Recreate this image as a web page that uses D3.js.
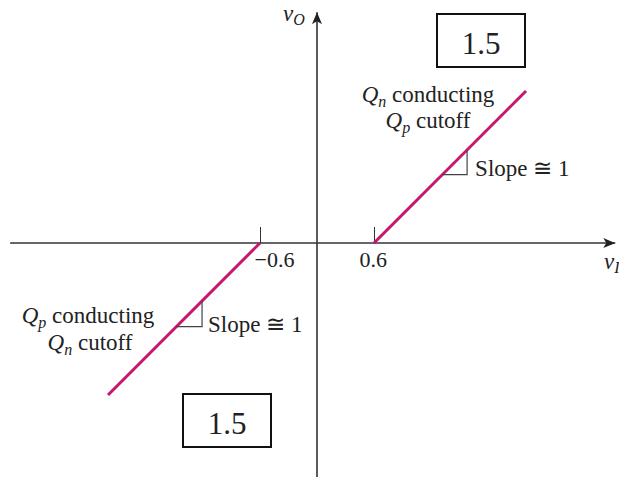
<!DOCTYPE html>
<html>
<head>
<meta charset="utf-8">
<script src="https://cdn.jsdelivr.net/npm/d3@7"></script>
<style>
  html, body { margin: 0; padding: 0; background: #fff; }
  svg { display: block; }
  text { font-family: "Liberation Serif", "DejaVu Serif", serif; fill: #222; }
</style>
</head>
<body>
<svg id="chart" width="619" height="477"></svg>
<script>
// ---- data ----
const segNegative = [[-2.2, -1.6], [-0.6, 0]];   // Qp conducting region
const segPositive = [[0.6, 0], [2.2, 1.6]];      // Qn conducting region
const tickValues = [-0.6, 0.6];
const tickLabels = ["\u22120.6", "0.6"];
const slopeTriangles = [
  { x0: 1.32, x1: 1.58, offset: -0.6 },
  { x0: -1.48, x1: -1.21, offset: 0.6 }
];
const boxLabels = ["1.5", "1.5"];

// ---- scales ----
const W = 619, H = 477;
const ox = 317, oy = 243, k = 95;
const x = d3.scaleLinear().domain([-1, 1]).range([ox - k, ox + k]);
const y = d3.scaleLinear().domain([-1, 1]).range([oy + k, oy - k]);

const svg = d3.select("#chart");
const axisColor = "#333";
const lineColor = "#c8156f";

// arrows
const defs = svg.append("defs");
defs.append("marker").attr("id", "arr").attr("viewBox", "0 0 12 10")
  .attr("refX", 12).attr("refY", 5).attr("markerWidth", 12).attr("markerHeight", 10)
  .attr("markerUnits", "userSpaceOnUse").attr("orient", "auto")
  .append("path").attr("d", "M0,0 L12,5 L0,10 L3,5 Z").attr("fill", "#222");

// x axis
const xAxis = d3.axisBottom(x).tickValues(tickValues).tickFormat((d, i) => tickLabels[i])
  .tickSize(-16).tickSizeOuter(0).tickPadding(0);
const gx = svg.append("g").attr("transform", `translate(0,${oy})`).call(xAxis);
gx.select(".domain").remove();
gx.selectAll(".tick line").attr("stroke", axisColor).attr("stroke-width", 1);
gx.selectAll(".tick text").attr("font-size", 22).attr("fill", "#222")
  .attr("y", 24).attr("dy", 0)
  .attr("text-anchor", "start")
  .attr("dx", (d) => d < 0 ? -6 : -15);

svg.append("line").attr("x1", x(-3.23)).attr("x2", x(3.14)).attr("y1", oy).attr("y2", oy)
  .attr("stroke", axisColor).attr("stroke-width", 1.6).attr("marker-end", "url(#arr)");
// y axis
svg.append("line").attr("x1", ox).attr("x2", ox).attr("y1", y(-2.5)).attr("y2", y(2.43))
  .attr("stroke", axisColor).attr("stroke-width", 1.6).attr("marker-end", "url(#arr)");

// axis labels
const vO = svg.append("text").attr("x", 283).attr("y", 21).attr("font-size", 23);
vO.append("tspan").attr("font-style", "italic").text("v");
vO.append("tspan").attr("font-style", "italic").attr("font-size", 16).attr("dy", 4).text("O");

const vI = svg.append("text").attr("x", 604).attr("y", 269).attr("font-size", 23);
vI.append("tspan").attr("font-style", "italic").text("v");
vI.append("tspan").attr("font-style", "italic").attr("font-size", 16).attr("dy", 4).text("I");

// transfer lines
const line = d3.line().x(d => x(d[0])).y(d => y(d[1]));
[segNegative, segPositive].forEach(seg => {
  svg.append("path").attr("d", line(seg)).attr("fill", "none")
    .attr("stroke", lineColor).attr("stroke-width", 3);
});

// slope triangles
slopeTriangles.forEach(t => {
  const pts = [[t.x0, t.x0 + t.offset], [t.x1, t.x0 + t.offset], [t.x1, t.x1 + t.offset]];
  svg.append("path").attr("d", line(pts)).attr("fill", "none")
    .attr("stroke", "#444").attr("stroke-width", 1.2);
});

// labels
function qLabel(cx, by, sub, rest) {
  const t = svg.append("text").attr("x", cx).attr("y", by).attr("font-size", 23)
    .attr("text-anchor", "middle");
  t.append("tspan").attr("font-style", "italic").text("Q");
  t.append("tspan").attr("font-style", "italic").attr("font-size", 16).attr("dy", 5).text(sub);
  t.append("tspan").attr("dy", -5).text(" " + rest);
}
qLabel(428, 102, "n", "conducting");
qLabel(428, 128, "p", "cutoff");
qLabel(88, 323, "p", "conducting");
qLabel(90, 350, "n", "cutoff");

svg.append("text").attr("x", x(1.58) + 8).attr("y", 176).attr("font-size", 23).text("Slope \u2245 1");
svg.append("text").attr("x", x(-1.21) + 6).attr("y", 332).attr("font-size", 23).text("Slope \u2245 1");

// boxes
const boxes = [{ x: 437, y: 14 }, { x: 183, y: 394 }];
boxes.forEach((b, i) => {
  svg.append("rect").attr("x", b.x).attr("y", b.y).attr("width", 88).attr("height", 53)
    .attr("fill", "#fff").attr("stroke", "#111").attr("stroke-width", 2);
  svg.append("text").attr("x", b.x + 44).attr("y", b.y + 40).attr("font-size", 31)
    .attr("text-anchor", "middle").attr("fill", "#111").text(boxLabels[i]);
});
</script>
</body>
</html>
